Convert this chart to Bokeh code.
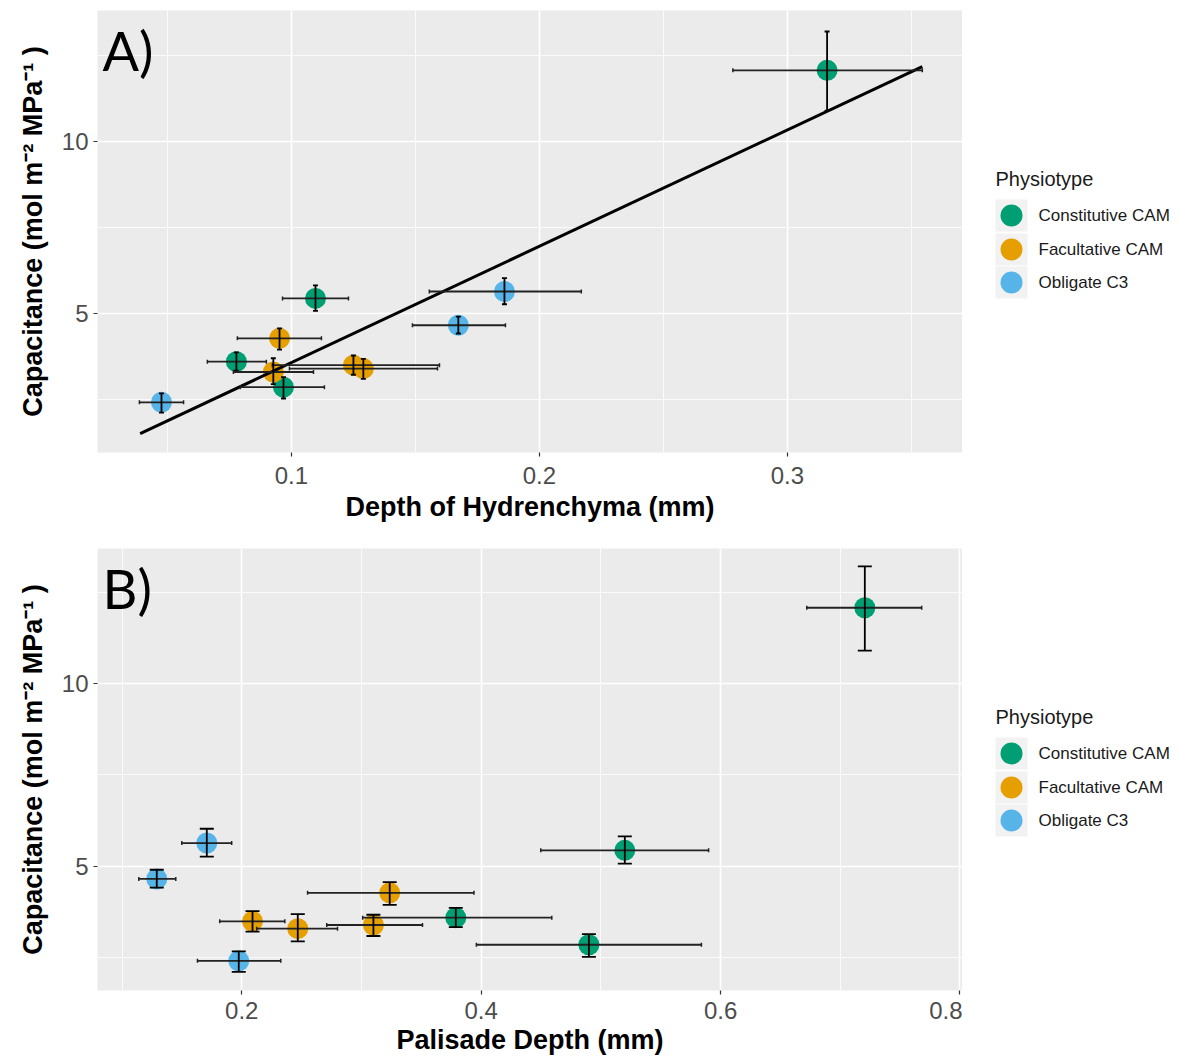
from bokeh.plotting import figure
from bokeh.models import ColumnDataSource, Range1d, FixedTicker, Whisker, TeeHead, Label
from bokeh.layouts import column, row
from bokeh.embed import file_html
from bokeh.resources import INLINE
from bokeh.core.properties import value

FONT = "Liberation Sans"

# ---------------- data ----------------
groups = ["Constitutive CAM", "Facultative CAM", "Obligate C3"]
colors = ["#009E73", "#E69F00", "#56B4E9"]

# capacitance (shared by both panels)
green_cap = [12.07, 5.44, 3.60, 2.86]
green_cap_lo = [10.9, 5.08, 3.34, 2.53]
green_cap_hi = [13.2, 5.82, 3.87, 3.15]
orange_cap = [4.28, 3.30, 3.50, 3.40]
orange_cap_lo = [3.95, 2.95, 3.22, 3.10]
orange_cap_hi = [4.57, 3.70, 3.78, 3.68]
blue_cap = [2.42, 5.64, 4.66]
blue_cap_lo = [2.12, 5.27, 4.42]
blue_cap_hi = [2.68, 6.03, 4.91]

# depth of hydrenchyma (mm)
green_hyd = [0.316, 0.1097, 0.0778, 0.0968]
green_hyd_lo = [0.278, 0.0964, 0.0661, 0.0794]
green_hyd_hi = [0.3544, 0.123, 0.0899, 0.1133]
orange_hyd = [0.0952, 0.0927, 0.125, 0.129]
orange_hyd_lo = [0.0782, 0.0766, 0.0923, 0.0992]
orange_hyd_hi = [0.1121, 0.1089, 0.1597, 0.1589]
blue_hyd = [0.0476, 0.1859, 0.1673]
blue_hyd_lo = [0.0387, 0.1556, 0.1488]
blue_hyd_hi = [0.0565, 0.2169, 0.1863]

# palisade depth (mm)
green_pal = [0.7205, 0.520, 0.3788, 0.490]
green_pal_lo = [0.672, 0.4498, 0.301, 0.396]
green_pal_hi = [0.768, 0.590, 0.459, 0.584]
orange_pal = [0.3236, 0.2468, 0.209, 0.310]
orange_pal_lo = [0.255, 0.2125, 0.1816, 0.271]
orange_pal_hi = [0.394, 0.280, 0.236, 0.351]
blue_pal = [0.1975, 0.1708, 0.129]
blue_pal_lo = [0.163, 0.1499, 0.114]
blue_pal_hi = [0.2326, 0.1916, 0.1449]

# fitted regression line (panel A)
fit_x = [0.039, 0.3544]
fit_y = [1.51, 12.18]

# axis ticks
hyd_ticks = [0.1, 0.2, 0.3]
hyd_minor = [0.05, 0.15, 0.25, 0.35]
pal_ticks = [0.2, 0.4, 0.6, 0.8]
pal_minor = [0.1, 0.3, 0.5, 0.7]
cap_ticks = [5, 10]
cap_minor = [2.5, 7.5, 12.5]

YLABEL = "Capacitance (mol m\u207b\u00b2 MPa\u207b\u00b9 )"

cap_all = [(green_cap, green_cap_lo, green_cap_hi),
           (orange_cap, orange_cap_lo, orange_cap_hi),
           (blue_cap, blue_cap_lo, blue_cap_hi)]


def make_panel(xsets, xr, yr, xticks, xminor, xlabel, tag, vcap, top, bottom,
               tick_standoff, label_standoff, fit=None):
    p = figure(frame_width=865, frame_height=442, min_border_left=97, min_border_right=0,
               min_border_top=top, min_border_bottom=bottom, title=None,
               x_range=Range1d(*xr), y_range=Range1d(*yr),
               output_backend="svg", toolbar_location=None)
    p.background_fill_color = "#EBEBEB"
    p.border_fill_color = "white"
    p.outline_line_color = None
    p.xaxis.ticker = FixedTicker(ticks=xticks, minor_ticks=xminor)
    p.yaxis.ticker = FixedTicker(ticks=cap_ticks, minor_ticks=cap_minor)
    p.grid.grid_line_color = "white"
    p.grid.grid_line_width = 1.6
    p.grid.minor_grid_line_color = "white"
    p.grid.minor_grid_line_width = 0.8
    for ax in (p.xaxis, p.yaxis):
        ax.axis_line_color = None
        ax.major_tick_line_color = "#333333"
        ax.major_tick_line_width = 1.2
        ax.major_tick_out = 4
        ax.major_tick_in = 0
        ax.minor_tick_out = 0
        ax.minor_tick_in = 0
        ax.major_label_text_font = FONT
        ax.major_label_text_font_size = "24px"
        ax.major_label_text_color = "#4D4D4D"
        ax.axis_label_text_font = FONT
        ax.axis_label_text_font_size = "27px"
        ax.axis_label_text_font_style = "bold"
        ax.axis_label_text_color = "black"
    p.xaxis.major_label_standoff = tick_standoff
    p.xaxis.axis_label_standoff = label_standoff
    p.yaxis.major_label_standoff = 5
    p.yaxis.axis_label_standoff = 11
    p.xaxis.axis_label = xlabel
    p.yaxis.axis_label = YLABEL

    for (xv, xlo, xhi), (yv, ylo, yhi), col in zip(xsets, cap_all, colors):
        src = ColumnDataSource(dict(x=xv, xlo=xlo, xhi=xhi, y=yv, ylo=ylo, yhi=yhi))
        p.scatter("x", "y", source=src, size=21, fill_color=col, line_color=None)
        p.add_layout(Whisker(base="y", lower="xlo", upper="xhi", dimension="width", source=src,
                             level="overlay",
                             line_color="#222222", line_width=1.8,
                             lower_head=TeeHead(size=4, line_color="#222222", line_width=1.5),
                             upper_head=TeeHead(size=4, line_color="#222222", line_width=1.5)))
        p.add_layout(Whisker(base="x", lower="ylo", upper="yhi", dimension="height", source=src,
                             level="overlay",
                             line_color="black", line_width=1.8,
                             lower_head=TeeHead(size=vcap, line_color="black", line_width=1.8),
                             upper_head=TeeHead(size=vcap, line_color="black", line_width=1.8)))
    if fit is not None:
        p.line(fit[0], fit[1], line_color="black", line_width=3)

    px_x = 865.0 / (xr[1] - xr[0])
    px_y = 442.0 / (yr[1] - yr[0])
    p.add_layout(Label(x=xr[0] + 5 / px_x, y=yr[1] - 7 / px_y, text=tag,
                       text_font="Lato", text_font_size="54px", text_baseline="top",
                       text_color="black"))
    return p


def make_legend(top, bottom):
    # frame aligned with the main panel's frame (442 px tall); y measured from frame top
    h = 442
    center = h / 2
    lf = figure(frame_width=218, frame_height=h, min_border_left=0, min_border_right=0,
                min_border_top=top, min_border_bottom=bottom, title=None,
                x_range=Range1d(0, 218), y_range=Range1d(h, 0),
                x_axis_location=None, y_axis_location=None,
                output_backend="svg", toolbar_location=None)
    lf.grid.visible = False
    lf.outline_line_color = None
    lf.background_fill_color = "white"
    lf.border_fill_color = "white"
    ky = [center - 16, center + 18, center + 51]
    kx = [49, 49, 49]
    lf.rect(x=kx, y=ky, width=32, height=32, width_units="screen", height_units="screen",
            fill_color="#F2F2F2", line_color=None)
    lf.scatter(x=kx, y=ky, size=22, fill_color=colors, line_color=None)
    lf.text(x=[76] * 3, y=ky, text=groups, text_baseline="middle", text_align="left",
            text_font=value(FONT), text_font_size="17px", text_color="#1A1A1A")
    lf.text(x=[33], y=[center - 53], text=["Physiotype"], text_baseline="middle",
            text_align="left", text_font=value(FONT), text_font_size="20px",
            text_color="#1A1A1A")
    return lf


pA = make_panel([(green_hyd, green_hyd_lo, green_hyd_hi),
                 (orange_hyd, orange_hyd_lo, orange_hyd_hi),
                 (blue_hyd, blue_hyd_lo, blue_hyd_hi)],
                (0.0218, 0.3706), (0.96, 13.81), hyd_ticks, hyd_minor,
                "Depth of Hydrenchyma (mm)", "A)", 5, 10, 83, 10, 5, fit=(fit_x, fit_y))
pB = make_panel([(green_pal, green_pal_lo, green_pal_hi),
                 (orange_pal, orange_pal_lo, orange_pal_hi),
                 (blue_pal, blue_pal_lo, blue_pal_hi)],
                (0.0795, 0.8021), (1.61, 13.69), pal_ticks, pal_minor,
                "Palisade Depth (mm)", "B)", 14, 13, 71, 7, 3)

lA = make_legend(10, 83)
lB = make_legend(13, 71)

layout = column(row(pA, lA), row(pB, lB))
open("out.html", "w").write(file_html(layout, INLINE))
